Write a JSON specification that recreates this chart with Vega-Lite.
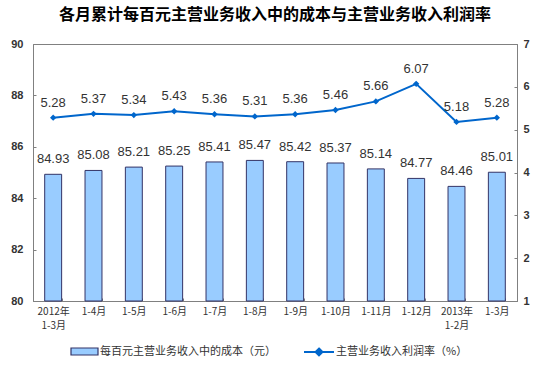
{
  "$schema": "https://vega.github.io/schema/vega-lite/v6.json",
  "autosize": {"type": "none"},
  "width": 484,
  "height": 257,
  "padding": {"left": 33, "top": 44, "right": 33, "bottom": 67},
  "background": "white",
  "title": {
    "text": "各月累计每百元主营业务收入中的成本与主营业务收入利润率",
    "font": "Noto Sans CJK SC",
    "fontSize": 16,
    "fontWeight": "bold",
    "color": "#000000",
    "frame": "group",
    "anchor": "middle",
    "offset": 15
  },
  "config": {
    "view": {"stroke": "#808080", "strokeWidth": 1},
    "axis": {"grid": false, "domainColor": "#808080", "tickColor": "#808080", "labelColor": "#333333"},
    "legend": {"labelFont": "Noto Sans CJK SC", "labelFontSize": 11, "labelColor": "#333333", "padding": 0, "labelLimit": 400}
  },
  "data": {
    "values": [
      {"label": "2012年\n1-3月", "cost": 84.93, "rate": 5.28},
      {"label": "1-4月", "cost": 85.08, "rate": 5.37},
      {"label": "1-5月", "cost": 85.21, "rate": 5.34},
      {"label": "1-6月", "cost": 85.25, "rate": 5.43},
      {"label": "1-7月", "cost": 85.41, "rate": 5.36},
      {"label": "1-8月", "cost": 85.47, "rate": 5.31},
      {"label": "1-9月", "cost": 85.42, "rate": 5.36},
      {"label": "1-10月", "cost": 85.37, "rate": 5.46},
      {"label": "1-11月", "cost": 85.14, "rate": 5.66},
      {"label": "1-12月", "cost": 84.77, "rate": 6.07},
      {"label": "2013年\n1-2月", "cost": 84.46, "rate": 5.18},
      {"label": "1-3月", "cost": 85.01, "rate": 5.28}
    ]
  },
  "encoding": {
    "x": {
      "field": "label",
      "type": "nominal",
      "sort": null,
      "title": null,
      "scale": {"paddingInner": 0.58, "paddingOuter": 0.29},
      "axis": {
        "labelAngle": 0,
        "labelExpr": "split(datum.label, '\\n')",
        "labelFont": "Noto Sans CJK SC",
        "labelFontSize": 10,
        "labelLineHeight": 14,
        "labelPadding": 8,
        "tickBand": "extent",
        "tickSize": -3,
        "domainColor": "#808080"
      }
    }
  },
  "layer": [
    {
      "encoding": {
        "y": {
          "field": "cost",
          "type": "quantitative",
          "title": null,
          "scale": {"domain": [80, 90], "zero": false, "nice": false},
          "axis": {
            "orient": "left",
            "values": [80, 82, 84, 86, 88, 90],
            "labelFont": "Liberation Sans",
            "labelFontSize": 11,
            "labelFontWeight": "bold",
            "labelPadding": 13,
            "tickSize": -3
          }
        }
      },
      "layer": [
        {
          "mark": {"type": "bar", "stroke": "#333366", "strokeWidth": 1},
          "encoding": {
            "y2": {"datum": 80},
            "fill": {
              "datum": "每百元主营业务收入中的成本（元）",
              "scale": {"range": ["#99CCFF"]},
              "legend": {
                "title": null,
                "orient": "none",
                "legendX": 37,
                "legendY": 293,
                "symbolType": "M-1,-0.26H1V0.26H-1Z",
                "symbolSize": 729,
                "symbolStrokeColor": "#333366",
                "symbolStrokeWidth": 1.2,
                "labelOffset": 1
              }
            }
          }
        },
        {
          "mark": {"type": "text", "baseline": "bottom", "dy": -8, "font": "Liberation Sans", "fontSize": 13, "fill": "#333333"},
          "encoding": {"text": {"field": "cost", "type": "quantitative", "format": ".2f"}}
        }
      ]
    },
    {
      "encoding": {
        "y": {
          "field": "rate",
          "type": "quantitative",
          "title": null,
          "scale": {"domain": [1, 7], "zero": false, "nice": false},
          "axis": {
            "orient": "right",
            "values": [1, 2, 3, 4, 5, 6, 7],
            "labelFont": "Liberation Sans",
            "labelFontSize": 11,
            "labelFontWeight": "bold",
            "labelPadding": 9,
            "tickSize": -3
          }
        }
      },
      "layer": [
        {
          "mark": {"type": "line", "strokeWidth": 2},
          "encoding": {
            "stroke": {
              "datum": "主营业务收入利润率（%）",
              "scale": {"range": ["#0066CC"]},
              "legend": {
                "title": null,
                "orient": "none",
                "legendX": 270,
                "legendY": 292,
                "symbolType": "M-1,0H1M0,-0.23L0.23,0L0,0.23L-0.23,0Z",
                "symbolSize": 900,
                "symbolFillColor": "#0066CC",
                "symbolStrokeWidth": 2,
                "labelOffset": 1
              }
            }
          }
        },
        {
          "mark": {"type": "point", "shape": "diamond", "filled": true, "size": 40, "color": "#0066CC", "opacity": 1},
          "encoding": {}
        },
        {
          "mark": {"type": "text", "baseline": "bottom", "dy": -8, "font": "Liberation Sans", "fontSize": 13, "fill": "#333333"},
          "encoding": {"text": {"field": "rate", "type": "quantitative", "format": ".2f"}}
        }
      ]
    }
  ],
  "resolve": {"scale": {"y": "independent"}}
}
